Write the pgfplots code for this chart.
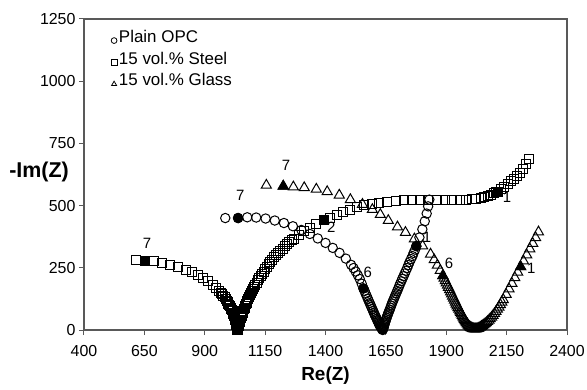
\documentclass[border=0pt]{standalone}
\usepackage{fontspec}
\setmainfont{Liberation Sans}
\usepackage{pgfplots}
\pgfplotsset{compat=1.18}
\newcommand{\lf}{\fontsize{17}{19}\selectfont}
\begin{document}
\begin{tikzpicture}
\useasboundingbox (-84bp,-60bp) rectangle (503bp,330bp);
\begin{axis}[
  at={(0,0)}, anchor=south west,
  scale only axis, width=483bp, height=311bp,
  xmin=400, xmax=2400, ymin=0, ymax=1250,
  xtick={400,650,900,1150,1400,1650,1900,2150,2400},
  ytick={0,250,500,750,1000,1250},
  tick pos=left, tick align=outside, major tick length=5bp,
  axis line style={black!65, line width=1.2bp},
  every tick/.style={black!65, line width=1bp},
  /pgf/number format/assume math mode=true,
  /pgf/number format/set thousands separator={},
  ticklabel style={font=\fontsize{16}{19}\selectfont},
  xticklabel style={yshift=-7bp},
  every axis x label/.style={at={(axis description cs:0.5,0)}, anchor=north, yshift=-37bp, inner sep=0pt, font=\bfseries\fontsize{19}{22}\selectfont},
  every axis y label/.style={at={(axis description cs:0,0.508)}, anchor=east, xshift=-15bp, inner sep=0pt, font=\bfseries\fontsize{21.5}{24}\selectfont},
  xlabel={Re(Z)}, ylabel={-Im(Z)},
  legend style={at={(axis description cs:0,1)}, anchor=north west, xshift=27bp, yshift=-9bp, draw=none, fill=none, row sep=4bp, inner sep=0pt, cells={anchor=west, inner xsep=3bp}},
  legend image code/.code={\draw[#1, mark size=2.9bp, line width=0.8bp] plot coordinates {(4bp,-3.5bp)};},
]
\addplot[only marks, mark=o, black, mark size=4.7bp, line width=1bp] table {
985 450
1038 450
1076 453
1113 452
1152 448
1190 440
1228 430
1265 417
1300 402
1335 386
1368 368
1400 350
1430 330
1458 310
1484 287
1506 262
1516 249
1525 235
1534 220
1542 205
1550 186
1557 167
1562 157
1566 146
1571 136
1575 126
1579 117
1583 108
1587 100
1590 92
1594 84
1597 77
1600 70
1603 63
1606 57
1609 51
1612 45
1614 40
1617 35
1619 30
1621 26
1623 22
1625 18
1627 15
1629 12
1631 9
1633 6
1634 4
1636 2
1637 0
1638 3
1639 7
1641 11
1642 16
1644 21
1645 26
1647 31
1649 37
1651 43
1653 49
1655 55
1658 62
1660 68
1663 75
1666 82
1669 90
1672 98
1675 106
1678 114
1682 122
1685 130
1689 139
1693 148
1697 157
1701 166
1705 176
1709 186
1714 196
1718 206
1723 216
1728 227
1733 238
1738 249
1743 261
1748 273
1754 285
1760 297
1765 310
1771 323
1776 337
1789 372
1801 405
1811 437
1819 468
1825 497
1830 524
};
\addlegendentry{\lf Plain OPC}
\addplot[only marks, mark=square, black, mark size=4.5bp, line width=1bp] table {
616 280
652 279
688 276
723 270
758 263
791 254
823 242
848 232
871 221
893 208
914 195
933 180
947 169
959 157
966 150
971 144
976 138
982 131
987 124
991 118
995 112
998 106
1002 100
1005 95
1008 90
1010 85
1013 80
1015 75
1017 70
1019 65
1021 60
1022 56
1024 51
1025 47
1026 43
1027 39
1028 35
1029 31
1030 27
1031 23
1031 19
1032 16
1033 13
1033 10
1034 7
1034 5
1035 2
1035 0
1036 0
1037 4
1038 8
1039 12
1040 17
1041 21
1043 26
1044 31
1046 36
1047 41
1049 47
1051 52
1053 58
1055 64
1057 70
1060 76
1062 83
1065 89
1067 96
1070 103
1073 110
1076 117
1080 125
1084 133
1088 141
1092 149
1096 157
1100 165
1105 173
1110 181
1115 190
1120 199
1126 208
1132 217
1138 226
1144 235
1151 245
1158 254
1165 264
1172 273
1180 283
1188 292
1196 301
1204 310
1213 319
1222 327
1231 336
1240 344
1250 352
1260 360
1270 367
1291 382
1313 397
1336 411
1360 425
1395 441
1420 452
1446 463
1473 474
1501 484
1530 493
1560 501
1591 507
1623 512
1656 516
1690 519
1724 521
1758 522
1792 522
1826 522
1860 521
1893 521
1925 521
1955 522
1982 523
2005 525
2025 528
2043 531
2058 535
2072 539
2085 544
2097 549
2108 553
2116 556
2128 566
2141 576
2154 587
2167 598
2180 608
2193 619
2206 632
2218 648
2229 666
2241 687
};
\addlegendentry{\lf 15 vol.\% Steel}
\addplot[only marks, mark=triangle, black, mark size=5.8bp, line width=1bp] table {
1155 582
1225 578
1267 575
1312 572
1362 566
1407 556
1457 542
1503 524
1553 505
1594 484
1627 464
1660 440
1698 414
1731 392
1768 366
1802 338
1835 305
1850 282
1863 260
1875 239
1886 218
1891 208
1896 198
1900 189
1905 180
1909 171
1914 162
1918 153
1922 145
1926 136
1930 128
1934 120
1938 112
1941 104
1945 97
1949 90
1952 83
1956 76
1959 70
1962 64
1966 58
1969 52
1972 47
1975 42
1978 37
1981 32
1984 28
1987 24
1990 20
1993 16
1997 13
2000 10
2004 8
2008 6
2012 5
2016 4
2020 4
2024 4
2028 5
2032 6
2036 8
2041 11
2046 14
2051 17
2056 21
2061 25
2066 29
2071 34
2077 39
2082 45
2088 51
2094 58
2100 66
2106 74
2112 83
2118 92
2124 102
2130 112
2136 122
2148 143
2160 165
2172 187
2184 210
2196 232
2208 254
2220 277
2233 302
2246 326
2258 348
2270 371
2282 394
};
\addlegendentry{\lf 15 vol.\% Glass}
% filled markers
\addplot[forget plot, only marks, mark=*, black, mark size=4.7bp, line width=1bp] table {
1038 450
1557 167
1776 337
};
\addplot[forget plot, only marks, mark=square*, black, mark size=4.5bp, line width=1bp] table {
652 279
1395 441
2116 556
};
\addplot[forget plot, only marks, mark=triangle*, black, mark size=5.8bp, line width=1bp] table {
1225 578
1886 218
2208 254
};
% number labels
\begin{scope}[every node/.style={font=\fontsize{15}{18}\selectfont, inner sep=0pt}]
\node at (axis cs:1047,542) {7};
\node at (axis cs:661,349) {7};
\node at (axis cs:1237,663) {7};
\node at (axis cs:1575,233) {6};
\node at (axis cs:1911,269) {6};
\node at (axis cs:1424,414) {2};
\node at (axis cs:2152,533) {1};
\node at (axis cs:1820,373) {1};
\node at (axis cs:2252,249) {1};
\end{scope}
\end{axis}
\end{tikzpicture}
\end{document}
